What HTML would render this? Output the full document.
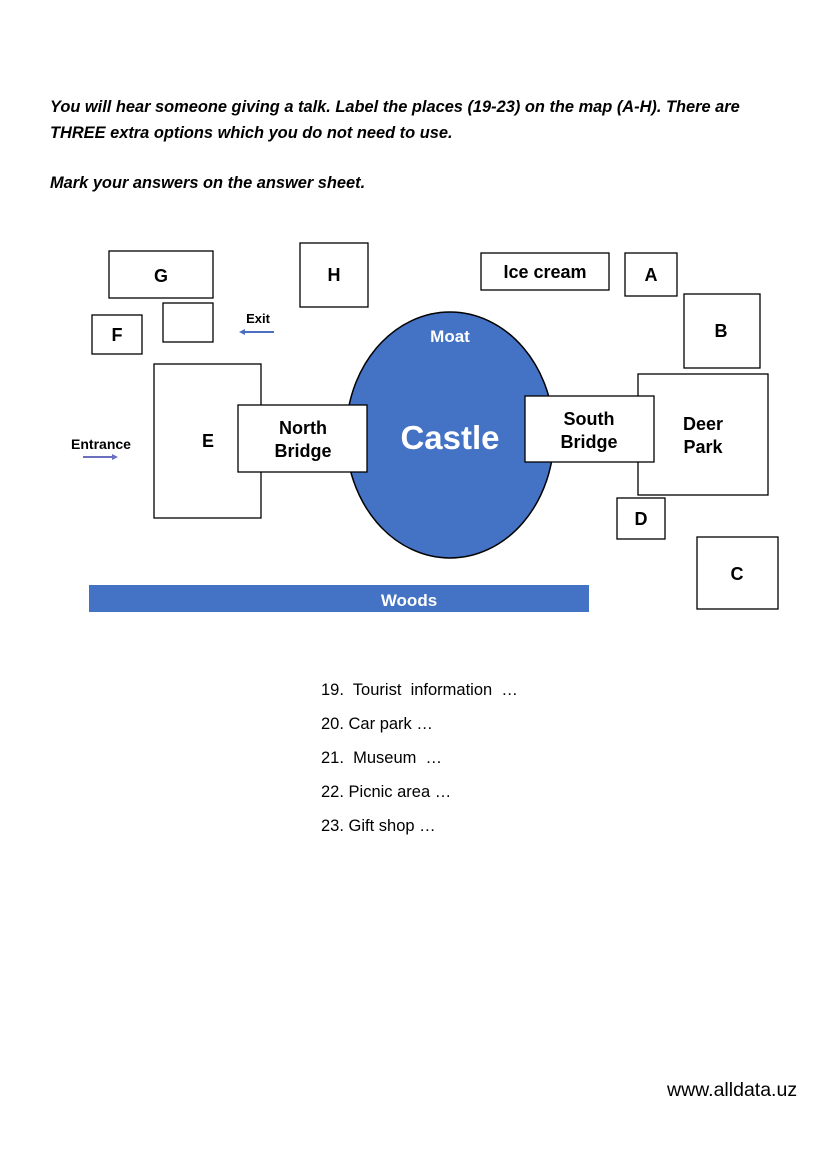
<!DOCTYPE html>
<html><head><meta charset="utf-8"><style>
body{margin:0;background:#fff;}
.p{position:absolute;font-family:"Liberation Sans",sans-serif;}
</style></head><body>
<div style="position:relative;width:827px;height:1169px;overflow:hidden">
<div class="p" style="left:50px;top:94px;font-size:16.4px;font-weight:bold;font-style:italic;line-height:26px;color:#000;white-space:nowrap">You will hear someone giving a talk. Label the places (19-23) on the map (A-H). There are<br>THREE extra options which you do not need to use.</div>
<div class="p" style="left:50px;top:174px;font-size:16.4px;font-weight:bold;font-style:italic;color:#000;white-space:nowrap">Mark your answers on the answer sheet.</div>
<svg class="p" style="left:0;top:0" width="827" height="700" font-family="Liberation Sans, sans-serif" font-weight="bold">
<g fill="#fff" stroke="#000" stroke-width="1.3">
<rect x="109" y="251" width="104" height="47"/>
<rect x="163" y="303" width="50" height="39"/>
<rect x="92" y="315" width="50" height="39"/>
<rect x="300" y="243" width="68" height="64"/>
<rect x="154" y="364" width="107" height="154"/>
<rect x="481" y="253" width="128" height="37"/>
<rect x="625" y="253" width="52" height="43"/>
<rect x="684" y="294" width="76" height="74"/>
<rect x="638" y="374" width="130" height="121"/>
<rect x="617" y="498" width="48" height="41"/>
<rect x="697" y="537" width="81" height="72"/>
</g>
<ellipse cx="450" cy="435" rx="104" ry="123" fill="#4472c4" stroke="#000" stroke-width="1.5"/>
<g fill="#fff" stroke="#000" stroke-width="1.3">
<rect x="238" y="405" width="129" height="67"/>
<rect x="525" y="396" width="129" height="66"/>
</g>
<rect x="89" y="585" width="500" height="27" fill="#4472c4"/>
<g font-size="18" text-anchor="middle" fill="#000">
<text x="161" y="282">G</text>
<text x="117" y="341">F</text>
<text x="334" y="281">H</text>
<text x="208" y="447">E</text>
<text x="545" y="278">Ice cream</text>
<text x="651" y="281">A</text>
<text x="721" y="337">B</text>
<text x="641" y="525">D</text>
<text x="737" y="580">C</text>
<text x="303" y="434">North</text>
<text x="303" y="457">Bridge</text>
<text x="589" y="425">South</text>
<text x="589" y="448">Bridge</text>
<text x="703" y="430">Deer</text>
<text x="703" y="453">Park</text>
</g>
<text x="450" y="342" font-size="17" text-anchor="middle" fill="#fff">Moat</text>
<text x="450" y="449" font-size="33" text-anchor="middle" fill="#fff">Castle</text>
<text x="409" y="606" font-size="17" text-anchor="middle" fill="#fff">Woods</text>
<text x="258" y="323" font-size="13" text-anchor="middle" fill="#000">Exit</text>
<text x="101" y="449" font-size="14" text-anchor="middle" fill="#000">Entrance</text>
<line x1="274" y1="332" x2="244" y2="332" stroke="#4a6fc0" stroke-width="2"/>
<polygon points="239,332 245,329 245,335" fill="#4a6fc0"/>
<line x1="83" y1="457" x2="113" y2="457" stroke="#6a6fc0" stroke-width="2"/>
<polygon points="118,457 112,454 112,460" fill="#6a6fc0"/>
</svg>
<div class="p" style="left:321px;top:673px;font-size:16.5px;line-height:34px;color:#000;white-space:nowrap">19.&nbsp; Tourist&nbsp; information&nbsp; …<br>20. Car park …<br>21.&nbsp; Museum&nbsp; …<br>22. Picnic area …<br>23. Gift shop …</div>
<div class="p" style="left:667px;top:1079px;font-size:19.5px;color:#000;white-space:nowrap">www.alldata.uz</div>
</div>
</body></html>
